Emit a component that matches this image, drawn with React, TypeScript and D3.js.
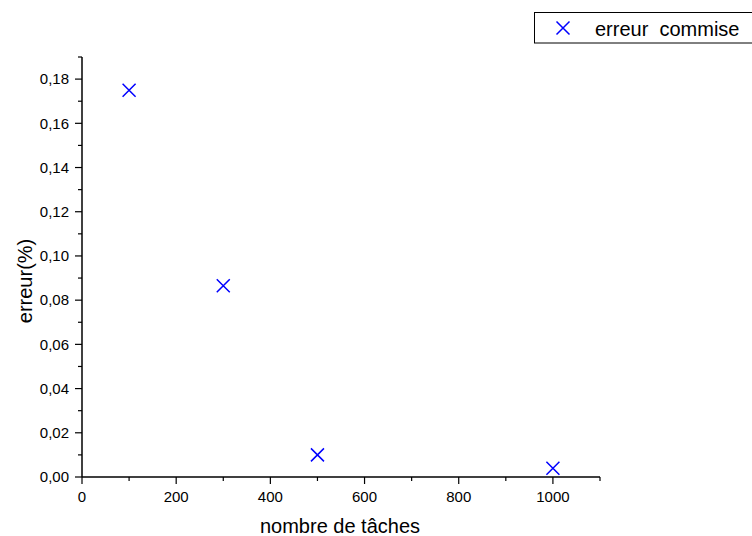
import React from "react";
import * as d3 from "d3";

const taches = [100, 300, 500, 1000];
const erreur = [0.175, 0.0865, 0.01, 0.004];
const xTicks = [0, 200, 400, 600, 800, 1000];
const yTicks = [0, 0.02, 0.04, 0.06, 0.08, 0.1, 0.12, 0.14, 0.16, 0.18];
const xMinor = d3.range(100, 1101, 200);
const yMinor = d3.range(0.01, 0.1901, 0.02);
const seriesName = "erreur  commise";

const W = 752, H = 536;
const FONT = "'Liberation Sans', Arial, sans-serif";

export default function App() {
  const x = d3.scaleLinear().domain([0, 1100]).range([82, 600]);
  const y = d3.scaleLinear().domain([0, 0.19]).range([477, 57]);
  const fmt = (v: number) => v.toFixed(2).replace(".", ",");
  const cross = (cx: number, cy: number, s = 6.5) =>
    `M${cx - s},${cy - s}L${cx + s},${cy + s}M${cx - s},${cy + s}L${cx + s},${cy - s}`;
  return (
    <svg width={W} height={H} style={{ position: "absolute", left: 0, top: 0 }} fontFamily={FONT}>
      <rect width={W} height={H} fill="#fff" />
      {/* y axis */}
      <line x1={x(0)} x2={x(0)} y1={y(0)} y2={y(0.19)} stroke="#000" strokeWidth={1.5} />
      {yTicks.map((t) => (
        <g key={"y" + t}>
          <line x1={x(0) - 7} x2={x(0)} y1={y(t)} y2={y(t)} stroke="#000" strokeWidth={1.2} />
          <text x={x(0) - 13} y={y(t)} dy="0.35em" textAnchor="end" fontSize={15}>{fmt(t)}</text>
        </g>
      ))}
      {yMinor.map((t) => (
        <line key={"ym" + t} x1={x(0) - 4} x2={x(0)} y1={y(t)} y2={y(t)} stroke="#000" strokeWidth={1.2} />
      ))}
      {/* x axis */}
      <line x1={x(0)} x2={x(1100)} y1={y(0)} y2={y(0)} stroke="#000" strokeWidth={1.5} />
      {xTicks.map((t) => (
        <g key={"x" + t}>
          <line x1={x(t)} x2={x(t)} y1={y(0)} y2={y(0) + 7} stroke="#000" strokeWidth={1.2} />
          <text x={x(t)} y={y(0) + 25} textAnchor="middle" fontSize={15}>{t}</text>
        </g>
      ))}
      {xMinor.map((t) => (
        <line key={"xm" + t} x1={x(t)} x2={x(t)} y1={y(0)} y2={y(0) + 4} stroke="#000" strokeWidth={1.2} />
      ))}
      <text x={340} y={533} textAnchor="middle" fontSize={20}>nombre de tâches</text>
      <text transform={`translate(32,281) rotate(-90)`} textAnchor="middle" fontSize={20}>erreur(%)</text>
      {/* points */}
      {taches.map((t, i) => (
        <path key={"p" + i} d={cross(x(t), y(erreur[i]))} stroke="#0000ff" strokeWidth={1.5} fill="none" />
      ))}
      {/* legend */}
      <rect x={534.5} y={12.5} width={230} height={30.5} fill="#fff" stroke="#000" strokeWidth={1} />
      <path d={cross(563, 28, 6.5)} stroke="#0000ff" strokeWidth={1.5} fill="none" />
      <text x={595} y={35.5} fontSize={20} style={{ whiteSpace: "pre" }}>{seriesName}</text>
    </svg>
  );
}
